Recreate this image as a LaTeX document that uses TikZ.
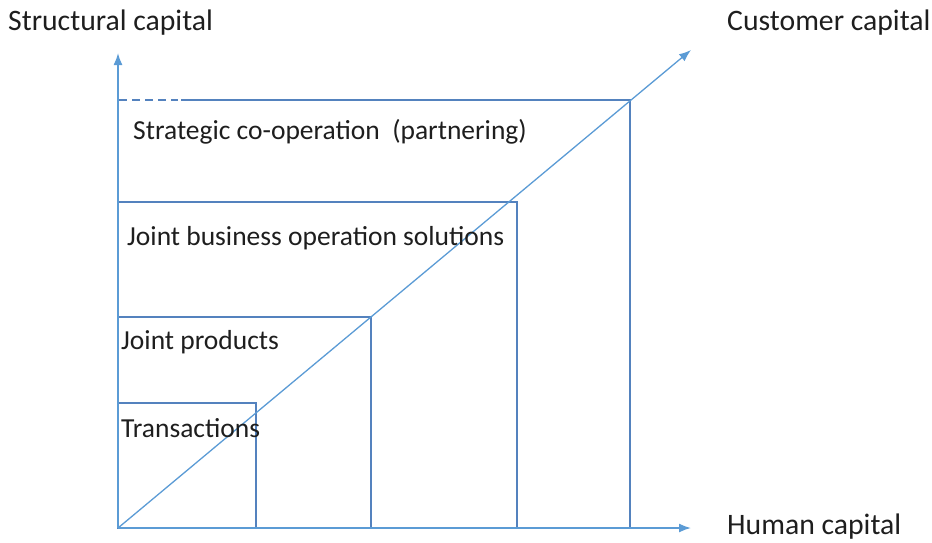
\documentclass[tikz,border=0pt]{standalone}
\usepackage{fontspec}
\setmainfont{Carlito}
\usetikzlibrary{arrows.meta, positioning}

\definecolor{axisblue}{RGB}{91,155,213}
\definecolor{boxblue}{RGB}{84,130,190}
\definecolor{txt}{RGB}{30,30,30}

\tikzset{
    axis/.style={draw=axisblue, line width=1.6pt, -{Latex[length=12pt,width=9pt]}},
    level/.style={draw=boxblue, line width=1.6pt},
    lbl/.style={anchor=west, inner sep=0pt, text=txt, font=\fontsize{27.5}{32}\selectfont},
    axislbl/.style={lbl, font=\fontsize{29.7}{34}\selectfont},
}

\begin{document}
\begin{tikzpicture}[x=1pt, y=-1pt]
    \useasboundingbox (0,0) rectangle (932,542);

    % origin and arrow ends
    \coordinate (O) at (118,528);
    \coordinate (ytop) at (118,53);
    \coordinate (xend) at (691,528);
    \coordinate (dend) at (691,50);

    % outer corners of the four levels
    \coordinate (t) at (256,403);
    \coordinate (p) at (371,317);
    \coordinate (b) at (517,202);
    \coordinate (s) at (630,100);

    % levels
    \draw[level] (O) rectangle (t);
    \draw[level] (O) rectangle (p);
    \draw[level] (O) rectangle (b);
    \draw[level] (O) |- (s) -- (s |- O);
    % broken start of the top edge
    \draw[draw=white, line width=2.2pt] (119,100) -- (216,100);
    \draw[level, dash pattern=on 8pt off 5pt] (119,100) -- (178,100);
    \draw[level] (181,100) -- (216,100);

    % axes
    \draw[axis] (O) -- (ytop);
    \draw[axis] (O) -- (xend);
    \draw[axis, line width=1.3pt] (O) -- (dend);

    % labels
    \node[axislbl] (sc) at (8,23) {Structural capital};
    \node[axislbl] (cc) at (727,23) {Customer capital};
    \node[axislbl] (hc) at (727,527) {Human capital};

    \node[lbl] (strat) at (133,132) {Strategic co-operation \ (partnering)};
    \node[lbl] (joint) at (127,238) {Joint business operation solutions};
    \node[lbl] (prod) at (121,342) {Joint products};
    \node[lbl] (trans) at (121,428) {Transactions};
\end{tikzpicture}
\end{document}
